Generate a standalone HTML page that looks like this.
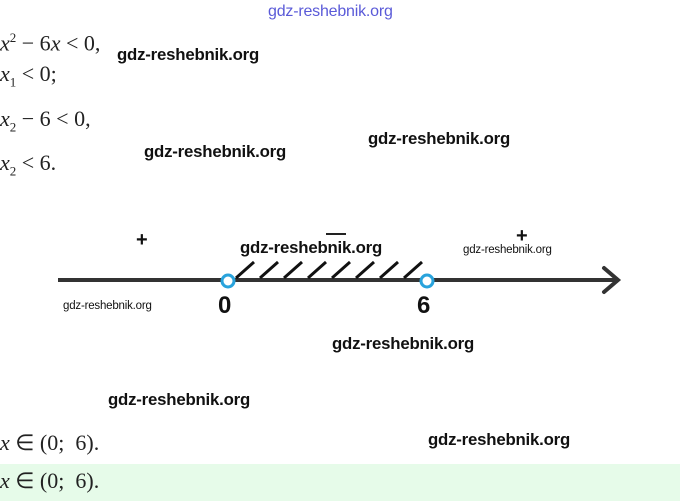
<!DOCTYPE html>
<html><head><meta charset="utf-8"><style>
body{margin:0;width:680px;height:501px;background:#fff;position:relative;overflow:hidden;font-family:"Liberation Serif",serif;}
.m{position:absolute;font-size:22px;color:#222;white-space:nowrap;line-height:1;}
.m i{font-style:italic}
.w{position:absolute;font-family:"Liberation Sans",sans-serif;font-size:16.8px;color:#111;white-space:nowrap;line-height:1;font-weight:bold;letter-spacing:-0.2px}
.ws{font-size:11.5px;font-weight:normal}
</style></head><body>
<div class="w" style="left:268px;top:4px;color:#5a5ad8;font-weight:normal;font-size:16px">gdz-reshebnik.org</div>
<div class="m" style="left:0;top:31px"><i>x</i><sup style="font-size:13px">2</sup> − 6<i>x</i> &lt; 0,</div>
<div class="w" style="left:117px;top:47px">gdz-reshebnik.org</div>
<div class="m" style="left:0;top:63px"><i>x</i><sub style="font-size:13px">1</sub> &lt; 0;</div>
<div class="m" style="left:0;top:108px"><i>x</i><sub style="font-size:13px">2</sub> − 6 &lt; 0,</div>
<div class="w" style="left:368px;top:131px">gdz-reshebnik.org</div>
<div class="m" style="left:0;top:152px"><i>x</i><sub style="font-size:13px">2</sub> &lt; 6.</div>
<div class="w" style="left:144px;top:144px">gdz-reshebnik.org</div>

<svg style="position:absolute;left:0;top:0" width="680" height="501">
<line x1="58" y1="280" x2="616" y2="280" stroke="#333" stroke-width="4"/>
<polyline points="604,268 618,280 604,292" fill="none" stroke="#333" stroke-width="4" stroke-linecap="round"/>
<g stroke="#111" stroke-width="3">
<line x1="236" y1="278" x2="254" y2="262"/>
<line x1="260" y1="278" x2="278" y2="262"/>
<line x1="284" y1="278" x2="302" y2="262"/>
<line x1="308" y1="278" x2="326" y2="262"/>
<line x1="332" y1="278" x2="350" y2="262"/>
<line x1="356" y1="278" x2="374" y2="262"/>
<line x1="380" y1="278" x2="398" y2="262"/>
<line x1="404" y1="278" x2="422" y2="262"/>
</g>
<circle cx="228" cy="281" r="6" fill="#fff" stroke="#29a3dc" stroke-width="3"/>
<circle cx="427" cy="281" r="6" fill="#fff" stroke="#29a3dc" stroke-width="3"/>
<line x1="326" y1="234" x2="346" y2="234" stroke="#222" stroke-width="2"/>
</svg>
<div class="w" style="left:136px;top:230px;font-size:20px">+</div>
<div class="w" style="left:516px;top:226px;font-size:20px">+</div>
<div class="w" style="left:240px;top:240px">gdz-reshebnik.org</div>
<div class="w ws" style="left:463px;top:245px">gdz-reshebnik.org</div>
<div class="w ws" style="left:63px;top:301px">gdz-reshebnik.org</div>
<div class="w" style="left:218px;top:294px;font-size:24px">0</div>
<div class="w" style="left:417px;top:294px;font-size:24px">6</div>
<div class="w" style="left:332px;top:336px">gdz-reshebnik.org</div>
<div class="w" style="left:108px;top:392px">gdz-reshebnik.org</div>
<div class="m" style="left:0;top:432px"><i>x</i> ∈ (0;&nbsp; 6).</div>
<div class="w" style="left:428px;top:432px">gdz-reshebnik.org</div>
<div style="position:absolute;left:0;top:464px;width:680px;height:37px;background:#e6fbe9"></div>
<div class="m" style="left:0;top:470px"><i>x</i> ∈ (0;&nbsp; 6).</div>
</body></html>
